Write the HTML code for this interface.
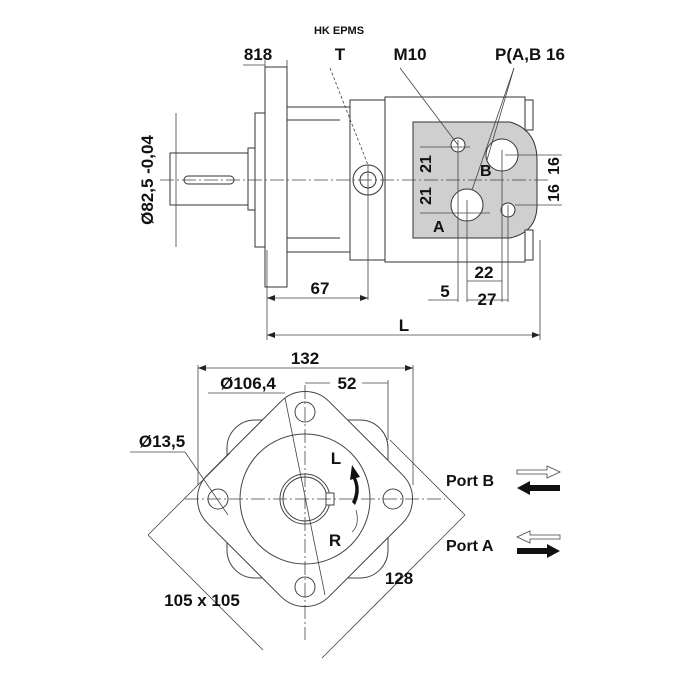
<!DOCTYPE html>
<html><head><meta charset="utf-8"><style>
html,body{margin:0;padding:0;background:#fff}
svg{display:block}
text{font-family:"Liberation Sans",Arial,sans-serif;font-weight:bold;fill:#111}
</style></head><body>
<svg width="700" height="700" viewBox="0 0 700 700" xmlns="http://www.w3.org/2000/svg">
<defs>
<marker id="ar" markerWidth="8" markerHeight="6" refX="8" refY="3" orient="auto-start-reverse" markerUnits="userSpaceOnUse"><path d="M0,0 L8,3 L0,6z" fill="#222"/></marker>
</defs>
<text x="339" y="34" font-size="11" text-anchor="middle">HK EPMS</text>

<!-- TOP VIEW -->
<g stroke="#333" stroke-width="1" fill="#fff">
<rect x="170" y="153" width="78" height="52"/>
<rect x="248" y="148" width="7" height="62"/>
<rect x="255" y="113" width="10" height="134"/>
<rect x="265" y="67" width="22" height="220"/>
<rect x="287" y="107" width="63" height="145"/>
<line x1="287" y1="120" x2="340" y2="120"/>
<line x1="287" y1="238" x2="340" y2="238"/>
<rect x="350" y="100" width="35" height="160"/>
<rect x="385" y="97" width="140" height="165"/>
<path d="M413,122 H510 Q537,130 537,160 V205 Q537,232 510,238 H413 Z" fill="#cfcfcf"/>
<rect x="525" y="100" width="8" height="30"/>
<rect x="525" y="230" width="8" height="30"/>
<rect x="184" y="176" width="50" height="8" rx="4"/>
<circle cx="368" cy="180" r="15"/><circle cx="368" cy="180" r="8"/>
<circle cx="458" cy="145" r="7"/><circle cx="508" cy="210" r="7"/>
<circle cx="502" cy="155" r="16"/><circle cx="467" cy="205" r="16"/>
</g>
<g stroke="#444" stroke-width="0.8" fill="none">
<line x1="160" y1="180" x2="550" y2="180" stroke-dasharray="14,3,2,3"/>
<line x1="368" y1="165" x2="368" y2="300"/>
<line x1="330" y1="68" x2="368" y2="165" stroke-dasharray="3,2"/>
<line x1="400" y1="68" x2="458" y2="145"/>
<line x1="514" y1="68" x2="487" y2="160"/><line x1="514" y1="68" x2="472" y2="190"/>
<line x1="267" y1="250" x2="267" y2="340"/>
<line x1="540" y1="240" x2="540" y2="340"/>
<line x1="458" y1="140" x2="458" y2="302"/><line x1="467" y1="200" x2="467" y2="302"/>
<line x1="502" y1="150" x2="502" y2="302"/><line x1="508" y1="205" x2="508" y2="302"/>
<line x1="420" y1="147" x2="470" y2="147"/><line x1="420" y1="213" x2="490" y2="213"/>
<line x1="505" y1="155" x2="562" y2="155"/><line x1="515" y1="205" x2="562" y2="205"/>
<line x1="176" y1="113" x2="176" y2="247"/>
<line x1="265" y1="60" x2="265" y2="67"/><line x1="287" y1="60" x2="287" y2="67"/>
<line x1="243" y1="65" x2="265" y2="65"/>
<line x1="267" y1="298" x2="368" y2="298" marker-start="url(#ar)" marker-end="url(#ar)"/>
<line x1="267" y1="335" x2="540" y2="335" marker-start="url(#ar)" marker-end="url(#ar)"/>
<line x1="428" y1="300" x2="458" y2="300"/>
<line x1="467" y1="300" x2="508" y2="300"/>
<line x1="467" y1="281" x2="502" y2="281"/>
</g>
<text x="258" y="60" font-size="17" text-anchor="middle">818</text>
<text x="340" y="60" font-size="17" text-anchor="middle">T</text>
<text x="410" y="60" font-size="17" text-anchor="middle">M10</text>
<text x="530" y="60" font-size="17" text-anchor="middle">P(A,B 16</text>
<text x="320" y="294" font-size="17" text-anchor="middle">67</text>
<text x="404" y="331" font-size="17" text-anchor="middle">L</text>
<text x="445" y="297" font-size="17" text-anchor="middle">5</text>
<text x="487" y="305" font-size="17" text-anchor="middle">27</text>
<text x="484" y="278" font-size="17" text-anchor="middle">22</text>
<text x="480" y="176" font-size="16">B</text>
<text x="433" y="232" font-size="16">A</text>
<text transform="translate(153,180) rotate(-90)" font-size="17" text-anchor="middle">Ø82,5 -0,04</text>
<text transform="translate(431,164) rotate(-90)" font-size="16" text-anchor="middle">21</text>
<text transform="translate(431,196) rotate(-90)" font-size="16" text-anchor="middle">21</text>
<text transform="translate(559,166) rotate(-90)" font-size="16" text-anchor="middle">16</text>
<text transform="translate(559,193) rotate(-90)" font-size="16" text-anchor="middle">16</text>

<!-- BOTTOM VIEW -->
<g stroke="#444" stroke-width="1" fill="#fff">
<rect x="227" y="420" width="161" height="158" rx="28"/>
<rect x="219" y="413" width="172" height="172" rx="34" transform="rotate(45 305 499)"/>
<circle cx="305" cy="499" r="65"/>
<circle cx="305" cy="499" r="25"/><circle cx="305" cy="499" r="22"/>
<rect x="326" y="493" width="8" height="12"/>
<circle cx="305" cy="412" r="10"/><circle cx="305" cy="587" r="10"/>
<circle cx="218" cy="499" r="10"/><circle cx="393" cy="499" r="10"/>
</g>
<g stroke="#444" stroke-width="0.8" fill="none">
<line x1="185" y1="499" x2="445" y2="499" stroke-dasharray="14,3,2,3"/>
<line x1="305" y1="385" x2="305" y2="640" stroke-dasharray="14,3,2,3"/>
<line x1="285" y1="398" x2="325" y2="595"/>
<line x1="198" y1="365" x2="198" y2="485"/><line x1="413" y1="365" x2="413" y2="485"/>
<line x1="198" y1="368" x2="413" y2="368" marker-start="url(#ar)" marker-end="url(#ar)"/>
<line x1="388" y1="380" x2="388" y2="440"/>
<line x1="305" y1="383" x2="330" y2="383"/><line x1="362" y1="383" x2="388" y2="383"/>
<line x1="208" y1="393" x2="285" y2="393"/>
<line x1="130" y1="452" x2="185" y2="452"/><line x1="185" y1="452" x2="228" y2="515"/>
<line x1="148" y1="535" x2="263" y2="650"/>
<line x1="390" y1="440" x2="465" y2="515"/>
<line x1="465" y1="515" x2="322" y2="658"/>
<line x1="148" y1="535" x2="230" y2="453"/>
</g>
<path d="M355,505 Q362,490 356,478 L360,477 L352,465 L350,480 L353,479 Q358,490 352,502 Z" fill="#111"/>
<path d="M356,510 Q360,525 352,532" stroke="#444" stroke-width="0.8" fill="none"/>
<text x="305" y="364" font-size="17" text-anchor="middle">132</text>
<text x="347" y="389" font-size="17" text-anchor="middle">52</text>
<text x="248" y="389" font-size="17" text-anchor="middle">Ø106,4</text>
<text x="162" y="447" font-size="17" text-anchor="middle">Ø13,5</text>
<text x="202" y="606" font-size="17" text-anchor="middle">105 x 105</text>
<text x="399" y="584" font-size="17" text-anchor="middle">128</text>
<text x="336" y="464" font-size="17" text-anchor="middle">L</text>
<text x="335" y="546" font-size="17" text-anchor="middle">R</text>
<text x="446" y="486" font-size="16">Port B</text>
<text x="446" y="551" font-size="16">Port A</text>
<path d="M517,470 H547 V466 L560,472 L547,478 V474 H517 Z" fill="#fff" stroke="#444" stroke-width="0.8"/>
<path d="M560,485 H530 V481 L517,488 L530,495 V491 H560 Z" fill="#111"/>
<path d="M560,535 H530 V531 L517,537 L530,543 V539 H560 Z" fill="#fff" stroke="#444" stroke-width="0.8"/>
<path d="M517,548 H547 V544 L560,551 L547,558 V554 H517 Z" fill="#111"/>
</svg>
</body></html>
